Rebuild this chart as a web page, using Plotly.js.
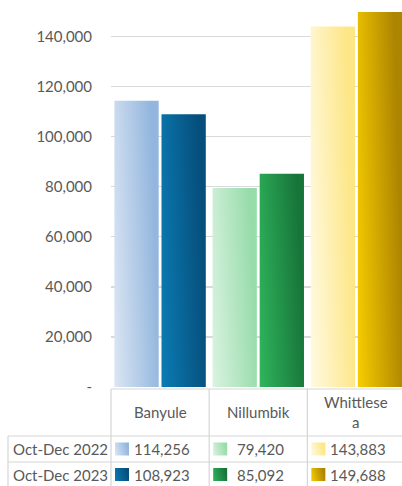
<!DOCTYPE html>
<html>
<head>
<meta charset="utf-8">
<script src="https://cdn.plot.ly/plotly-3.0.1.min.js"></script>
<style>
  html, body { margin: 0; padding: 0; background: #ffffff; }
  #chart { width: 402px; height: 486px; }
</style>
</head>
<body>
<div id="chart"></div>
<script>
// ---- data ----
const categories = ['Banyule', 'Nillumbik', 'Whittlesea'];
const headerLabels = ['Banyule', 'Nillumbik', 'Whittlese<br>a'];
const seriesNames = ['Oct-Dec 2022', 'Oct-Dec 2023'];
const values2022 = [114256, 79420, 143883];
const values2023 = [108923, 85092, 149688];
const tickVals = [0, 20000, 40000, 60000, 80000, 100000, 120000, 140000];
const tickText = ['-', '20,000', '40,000', '60,000', '80,000', '100,000', '120,000', '140,000'];

// ---- style ----
const seriesValues = [values2022, values2023];
// [light, dark] gradient stops per series per category
const gradStops = [
  [['#dbe6f3', '#93b6de'], ['#d9f3e0', '#98dcab'], ['#fffae2', '#fde685']],
  [['#0b7cb4', '#064f7c'], ['#2fb55c', '#18753a'], ['#f7cd00', '#ae8500']]
];
const midColors = [
  ['#b7cde8', '#bce8c7', '#fef0b4'],
  ['#08659a', '#23944b', '#d9aa00']
];
const textColor = '#595959';
const lineColor = '#d6d6d6';
const FONT = 'Lato, "Open Sans", sans-serif';

const W = 402, H = 486;
const M = { l: 111, r: 0, t: 0, b: 99 };
const plotW = W - M.l - M.r, plotH = H - M.t - M.b;
const px2x = px => (px - M.l) / plotW;
const py2y = py => 1 - (py - M.t) / plotH;

const data = seriesNames.map((name, si) => ({
  type: 'bar',
  name: name,
  x: categories,
  y: seriesValues[si],
  marker: { color: midColors[si], line: { width: 0 } },
  hoverinfo: 'none'
}));

// ---- data table (shapes + annotations) ----
const shapes = [];
const annotations = [];
const line = (x0, y0, x1, y1) => shapes.push({
  type: 'line', xref: 'paper', yref: 'paper',
  x0: px2x(x0), y0: py2y(y0), x1: px2x(x1), y1: py2y(y1),
  line: { color: lineColor, width: 1.2 }, layer: 'above'
});
const tableTop = 389, headerBottom = 436, rowSep = 462, tableBottom = 490;
const catW = plotW / 2.964;
const boundaries = [M.l, M.l + catW, M.l + 2 * catW];
line(M.l, tableTop, W + 5, tableTop);
line(8, headerBottom, W + 5, headerBottom);
line(8, rowSep, W + 5, rowSep);
line(8, headerBottom, 8, tableBottom);
boundaries.forEach(b => line(b, tableTop, b, tableBottom));

const textFont = { family: FONT, size: 15, color: textColor };
categories.forEach((c, ci) => {
  annotations.push({
    xref: 'x', yref: 'paper', x: c, y: py2y(412),
    text: headerLabels[ci], showarrow: false, font: textFont,
    xanchor: 'center', yanchor: 'middle'
  });
});
const rowCenters = [449, 474.5];
const keyShapeIdx = [];
seriesNames.forEach((s, si) => {
  annotations.push({
    xref: 'paper', yref: 'paper', x: px2x(11), y: py2y(rowCenters[si]),
    text: s, showarrow: false, font: textFont, xanchor: 'left', yanchor: 'middle'
  });
  categories.forEach((c, ci) => {
    annotations.push({
      xref: 'x', yref: 'paper', x: c, y: py2y(rowCenters[si]),
      text: seriesValues[si][ci].toLocaleString('en-US'), showarrow: false,
      font: textFont, xanchor: 'center', yanchor: 'middle', xshift: 2
    });
    keyShapeIdx.push({ idx: shapes.length, si: si, ci: ci });
    const kx = boundaries[ci] + 4;
    shapes.push({
      type: 'rect', xref: 'paper', yref: 'paper',
      x0: px2x(kx), x1: px2x(kx + 14),
      y0: py2y(rowCenters[si] + 6.5), y1: py2y(rowCenters[si] - 6.5),
      fillcolor: midColors[si][ci], line: { width: 0 }, layer: 'above'
    });
  });
});

const layout = {
  width: W, height: H,
  margin: M,
  paper_bgcolor: '#ffffff', plot_bgcolor: '#ffffff',
  showlegend: false,
  barmode: 'group',
  bargap: 0.04,
  bargroupgap: 0.06,
  font: { family: FONT, color: textColor },
  xaxis: {
    type: 'category', range: [-0.5, 2.464], showticklabels: false,
    showgrid: false, zeroline: false, showline: false, fixedrange: true
  },
  yaxis: {
    range: [0, 154500], tickvals: tickVals, ticktext: tickText,
    tickfont: { family: FONT, size: 15, color: textColor },
    showgrid: true, gridcolor: '#d9d9d9', gridwidth: 1.5,
    zeroline: false, showline: false, ticks: '', ticklabelstandoff: 18,
    fixedrange: true
  },
  shapes: shapes,
  annotations: annotations
};

Plotly.newPlot('chart', data, layout, { staticPlot: true, displayModeBar: false }).then(gd => {
  const NS = 'http://www.w3.org/2000/svg';
  const svg = gd.querySelector('svg.main-svg');
  let defs = svg.querySelector('defs');
  if (!defs) { defs = document.createElementNS(NS, 'defs'); svg.insertBefore(defs, svg.firstChild); }
  const makeGrad = (id, stops) => {
    const g = document.createElementNS(NS, 'linearGradient');
    g.setAttribute('id', id);
    g.setAttribute('x1', '0'); g.setAttribute('y1', '1');
    g.setAttribute('x2', '1'); g.setAttribute('y2', '0.75');
    [[0, stops[0]], [1, stops[1]]].forEach(([o, c]) => {
      const s = document.createElementNS(NS, 'stop');
      s.setAttribute('offset', o);
      s.setAttribute('stop-color', c);
      g.appendChild(s);
    });
    defs.appendChild(g);
    return 'url(#' + id + ')';
  };
  const fills = gradStops.map((row, si) => row.map((st, ci) => makeGrad('bgrad' + si + ci, st)));
  gd.querySelectorAll('.barlayer .trace').forEach((tr, si) => {
    tr.querySelectorAll('.point path').forEach((p, ci) => {
      if (fills[si] && fills[si][ci]) p.style.fill = fills[si][ci];
    });
  });
  keyShapeIdx.forEach(k => {
    const p = gd.querySelector('.shapelayer path[data-index="' + k.idx + '"]');
    if (p) p.style.fill = fills[k.si][k.ci];
  });
});
</script>
</body>
</html>
